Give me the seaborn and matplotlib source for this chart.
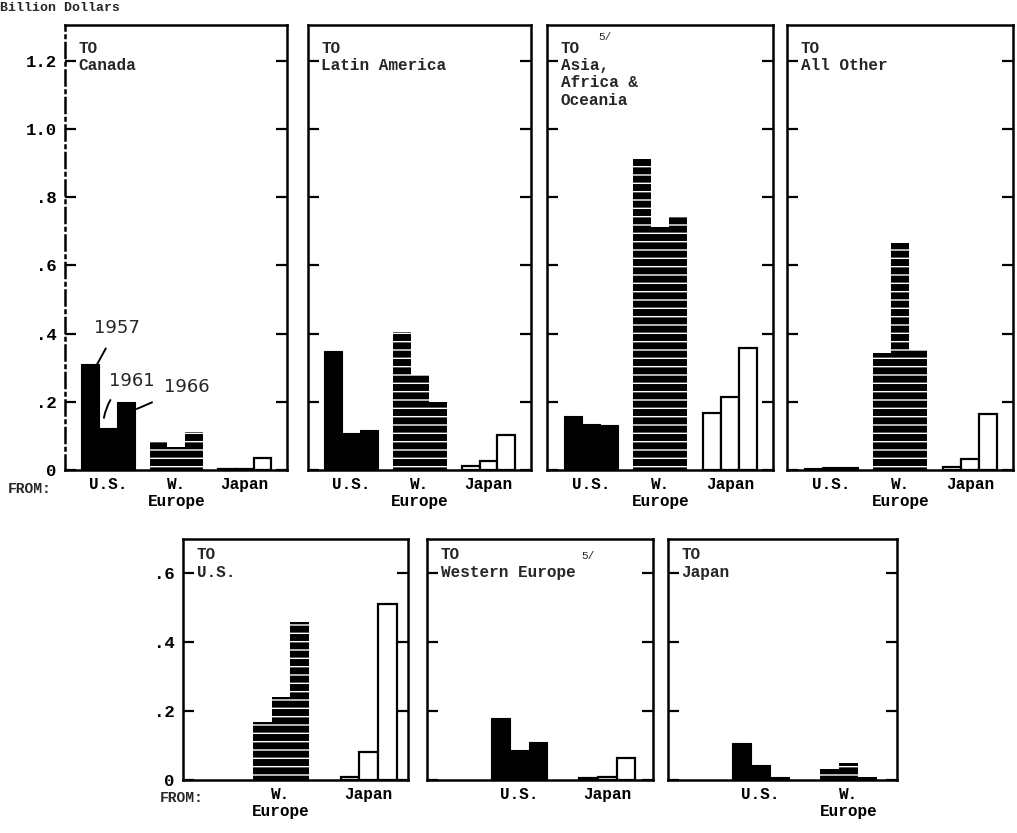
import pandas as pd
import seaborn as sns
import matplotlib.pyplot as plt

# values, billion dollars, for 1957 / 1961 / 1966
years = ['1957', '1961', '1966']
origin_labels = {'U.S.': 'U.S.', 'W. Europe': 'W.\nEurope', 'Japan': 'Japan'}

to_canada = {'U.S.': [0.31, 0.123, 0.199], 'W. Europe': [0.082, 0.068, 0.112], 'Japan': [0.003, 0.004, 0.035]}
to_latin_america = {'U.S.': [0.35, 0.108, 0.117], 'W. Europe': [0.405, 0.28, 0.20], 'Japan': [0.012, 0.027, 0.103]}
to_asia_africa = {'U.S.': [0.158, 0.135, 0.133], 'W. Europe': [0.912, 0.713, 0.742], 'Japan': [0.167, 0.214, 0.358]}
to_all_other = {'U.S.': [0.006, 0.01, 0.008], 'W. Europe': [0.343, 0.665, 0.352], 'Japan': [0.01, 0.033, 0.165]}
to_us = {'W. Europe': [0.168, 0.24, 0.46], 'Japan': [0.01, 0.081, 0.51]}
to_western_europe = {'U.S.': [0.18, 0.087, 0.11], 'Japan': [0.005, 0.01, 0.064]}
to_japan = {'U.S.': [0.107, 0.043, 0.01], 'W. Europe': [0.032, 0.05, 0.01]}

top_yticks = [0, 0.2, 0.4, 0.6, 0.8, 1.0, 1.2]
top_ytick_labels = ['0', '.2', '.4', '.6', '.8', '1.0', '1.2']
bottom_yticks = [0, 0.2, 0.4, 0.6]
bottom_ytick_labels = ['0', '.2', '.4', '.6']


def long_table(values):
    rows = []
    for origin, vals in values.items():
        for year, v in zip(years, vals):
            rows.append({'origin': origin, 'year': year, 'value': v})
    return pd.DataFrame(rows)


sns.set_theme(style='white')
plt.rcParams['font.family'] = ['Liberation Mono', 'DejaVu Sans Mono']
plt.rcParams['font.weight'] = 'bold'
plt.rcParams['hatch.linewidth'] = 5.0

W, H = 1017, 833
fig = plt.figure(figsize=(W / 100, H / 100), dpi=100)


def add_box(x0, x1, y0, y1):
    return fig.add_axes([x0 / W, 1 - y1 / H, (x1 - x0) / W, (y1 - y0) / H])


def draw_panel(ax, values, title, ymax, yticks, ylabels, xlim, width, show_y):
    order = list(values.keys())
    sns.barplot(data=long_table(values), x='origin', y='value', hue='year',
                order=order, hue_order=years, width=width, dodge=True,
                palette=['black'] * 3, saturation=1, legend=False, ax=ax)
    for bar in ax.patches:
        origin = order[int(round(bar.get_x() + bar.get_width() / 2))]
        if origin == 'U.S.':
            bar.set_facecolor('black')
            bar.set_edgecolor('black')
            bar.set_linewidth(0.8)
        elif origin == 'W. Europe':
            bar.set_facecolor('white')
            bar.set_edgecolor('black')
            bar.set_hatch('--')
            bar.set_linewidth(0)
        else:
            bar.set_facecolor('white')
            bar.set_edgecolor('black')
            bar.set_linewidth(1.6)
    ax.set_xlim(*xlim)
    ax.set_ylim(0, ymax)
    ax.set_yticks(yticks)
    ax.set_yticklabels(ylabels if show_y else [])
    ax.set_xticks(range(len(order)))
    ax.set_xticklabels([origin_labels[o] for o in order])
    ax.set_xlabel('')
    ax.set_ylabel('')
    ax.tick_params(axis='y', direction='in', length=8, width=1.6,
                   left=True, right=True, labelsize=12.5, pad=6, colors='black')
    ax.tick_params(axis='x', length=0, labelsize=11.5, pad=5, colors='black')
    for s in ax.spines.values():
        s.set_color('black')
        s.set_linewidth(1.8)
    ax.text(0.06, 0.965, title, transform=ax.transAxes, ha='left', va='top',
            fontsize=11.5, fontweight='bold', linespacing=1.2)


top_boxes = [(65, 287), (308, 531), (547, 773), (787, 1013)]
top_panels = [
    (to_canada, 'TO\nCanada'),
    (to_latin_america, 'TO\nLatin America'),
    (to_asia_africa, 'TO\nAsia,\nAfrica &\nOceania'),
    (to_all_other, 'TO\nAll Other'),
]
top_axes = []
for i, ((x0, x1), (vals, title)) in enumerate(zip(top_boxes, top_panels)):
    ax = add_box(x0, x1, 25, 470)
    draw_panel(ax, vals, title, 1.305, top_yticks, top_ytick_labels,
               (-0.63, 2.62), 0.78, i == 0)
    top_axes.append(ax)

bottom_boxes = [(183, 408), (427, 653), (668, 897)]
bottom_panels = [
    (to_us, 'TO\nU.S.', (-1.12, 1.45)),
    (to_western_europe, 'TO\nWestern Europe', (-1.05, 1.52)),
    (to_japan, 'TO\nJapan', (-1.05, 1.55)),
]
bottom_axes = []
for i, ((x0, x1), (vals, title, xl)) in enumerate(zip(bottom_boxes, bottom_panels)):
    ax = add_box(x0, x1, 539, 780)
    draw_panel(ax, vals, title, 0.70, bottom_yticks, bottom_ytick_labels,
               xl, 0.64, i == 0)
    bottom_axes.append(ax)

# dashed left frame of the first panel
top_axes[0].spines['left'].set_linestyle((0, (6, 2, 1, 2)))

# footnote markers
top_axes[2].text(0.225, 0.985, '5/', transform=top_axes[2].transAxes,
                 fontsize=8, fontweight='normal', va='top')
bottom_axes[1].text(0.685, 0.95, '5/', transform=bottom_axes[1].transAxes,
                    fontsize=8, fontweight='normal', va='top')

# year call-outs on the Canada panel
canada = top_axes[0]
note_kw = dict(fontsize=13, fontweight='normal', family='DejaVu Sans',
               textcoords='axes fraction', ha='center', va='center',
               arrowprops=dict(arrowstyle='-', lw=1.4, color='black',
                               shrinkA=7, shrinkB=0))
canada.annotate('1957', xy=(-0.16, to_canada['U.S.'][0]), xytext=(0.235, 0.32), **note_kw)
canada.annotate('1961', xy=(-0.06, to_canada['U.S.'][1] + 0.03), xytext=(0.3, 0.2),
                **dict(note_kw, arrowprops=dict(arrowstyle='-', lw=1.4, color='black',
                                                shrinkA=6, shrinkB=0,
                                                connectionstyle='arc3,rad=0.25')))
canada.annotate('1966', xy=(0.42, to_canada['U.S.'][2] - 0.02), xytext=(0.55, 0.186), **note_kw)

fig.text(0 / W, 1 - 8 / H, 'Billion Dollars', fontsize=9.5, fontweight='bold',
         ha='left', va='center')
fig.text(8 / W, 1 - 489 / H, 'FROM:', fontsize=10.5, fontweight='bold',
         ha='left', va='center')
fig.text(160 / W, 1 - 798 / H, 'FROM:', fontsize=10.5, fontweight='bold',
         ha='left', va='center')

fig.savefig('out.png', dpi=100, facecolor='white')
